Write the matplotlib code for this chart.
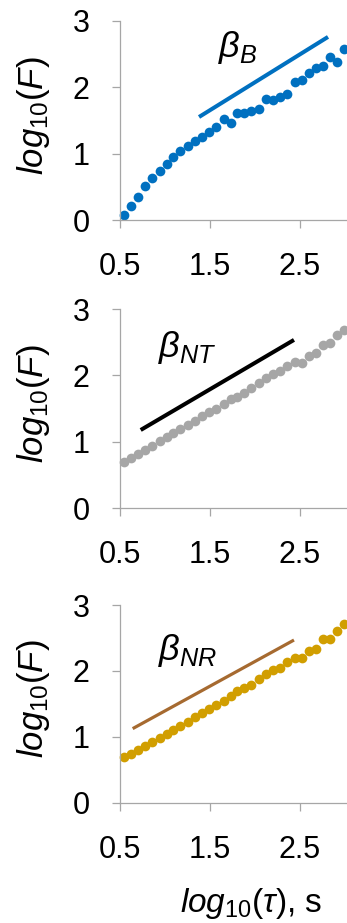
import numpy as np
import matplotlib
matplotlib.use("Agg")
import matplotlib.pyplot as plt

plt.rcParams['font.family'] = ['Liberation Sans', 'DejaVu Sans']
plt.rcParams['mathtext.fontset'] = 'custom'
plt.rcParams['mathtext.rm'] = 'Liberation Sans'
plt.rcParams['mathtext.it'] = 'Liberation Sans:italic'

# log10(tau) positions shared by all three panels
log_tau = [0.54, 0.62, 0.70, 0.78, 0.86, 0.94, 1.02, 1.09, 1.17, 1.25, 1.33,
           1.41, 1.49, 1.57, 1.65, 1.73, 1.80, 1.88, 1.96, 2.04, 2.12, 2.20,
           2.28, 2.36, 2.44, 2.52, 2.60, 2.68, 2.75, 2.83, 2.91, 2.99]

# log10(F) for each series
F_B = [0.075, 0.216, 0.342, 0.518, 0.628, 0.744, 0.839, 0.955, 1.045, 1.116,
       1.191, 1.256, 1.332, 1.397, 1.518, 1.457, 1.618, 1.608, 1.643, 1.673,
       1.819, 1.809, 1.849, 1.899, 2.085, 2.111, 2.221, 2.286, 2.327, 2.452,
       2.377, 2.573]
F_NT = [0.70, 0.75, 0.82, 0.88, 0.94, 1.01, 1.07, 1.13, 1.19, 1.25, 1.31,
        1.38, 1.44, 1.50, 1.57, 1.64, 1.68, 1.74, 1.81, 1.88, 1.96, 2.02,
        2.07, 2.14, 2.20, 2.18, 2.29, 2.34, 2.46, 2.48, 2.61, 2.69]
F_NR = [0.70, 0.75, 0.81, 0.87, 0.93, 0.99, 1.05, 1.11, 1.17, 1.23, 1.30,
        1.36, 1.43, 1.49, 1.55, 1.62, 1.70, 1.74, 1.79, 1.88, 1.95, 2.01,
        2.05, 2.14, 2.20, 2.19, 2.30, 2.34, 2.48, 2.48, 2.61, 2.71]

# slope guide lines (x pair, y pair)
guide_B = ([1.378, 2.811], [1.553, 2.76])
guide_NT = ([0.73, 2.433], [1.176, 2.534])
guide_NR = ([0.641, 2.433], [1.127, 2.469])

labels = [r'$\beta_{B}$', r'$\beta_{NT}$', r'$\beta_{NR}$']
label_pos = [(1.59, 2.46), (0.92, 2.28), (0.92, 2.17)]

W, H = 347, 923
fig = plt.figure(figsize=(W / 100, H / 100), dpi=100)

panels = [
    (F_B, guide_B, '#0070C0', '#0070C0', 7.0, 2.9, 220, 21),
    (F_NT, guide_NT, '#A6A6A6', '#000000', 7.0, 2.9, 508, 309),
    (F_NR, guide_NR, '#D19E00', '#A66A30', 7.0, 2.3, 803, 605),
]

for i, (ys, guide, dot_c, line_c, ms, lw, y0px, y3px) in enumerate(panels):
    ax = fig.add_axes([120 / W, 1 - y0px / H, 227 / W, (y0px - y3px) / H])
    ax.plot(guide[0], guide[1], color=line_c, lw=lw, solid_capstyle='butt')
    ax.plot(log_tau, ys, 'o', color=dot_c, ms=ms, mec='none', clip_on=False)
    ax.text(label_pos[i][0], label_pos[i][1], labels[i], fontsize=26,
            ha='left', va='baseline')
    ax.set_xlim(0.5, 3.022)
    ax.set_ylim(0, 3)
    ax.set_xticks([0.5, 1.5, 2.5])
    ax.set_xticklabels(['0.5', '1.5', '2.5'])
    ax.set_yticks([0, 1, 2, 3])
    for s in ['top', 'right']:
        ax.spines[s].set_visible(False)
    for s in ['left', 'bottom']:
        ax.spines[s].set_color('#A6A6A6')
        ax.spines[s].set_linewidth(0.9)
    ax.tick_params(axis='both', direction='out', length=6, width=0.9,
                   color='#A6A6A6', labelsize=22, labelcolor='black')
    ax.tick_params(axis='y', pad=16)
    ax.tick_params(axis='x', pad=17)
    ax.set_facecolor('none')
    fig.text(34 / W, 1 - ((y0px + y3px) / 2 - 5) / H,
             r'$\mathit{log_{10}(F)}$', rotation=90, ha='center', va='center',
             fontsize=25)

fig.text(180 / W, 1 - 912 / H, r'$\mathit{log_{10}(\tau)}$, s', fontsize=24,
         ha='left', va='baseline')

fig.savefig('out.png', dpi=100)
